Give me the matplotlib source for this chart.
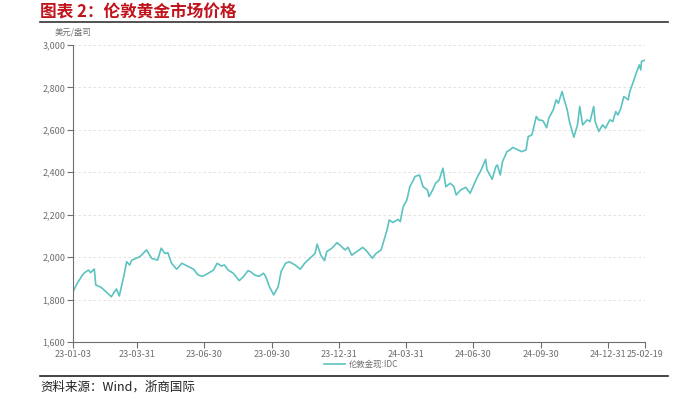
import matplotlib
matplotlib.use("Agg")
import matplotlib.pyplot as plt
import matplotlib.dates as mdates
import pandas as pd

plt.rcParams['font.family'] = ['Noto Sans CJK SC', 'DejaVu Sans']

dates = [
    "2023-01-03", "2023-01-09", "2023-01-16", "2023-01-19", "2023-01-24", "2023-01-27",
    "2023-02-01", "2023-02-03", "2023-02-10", "2023-02-17", "2023-02-24", "2023-03-03",
    "2023-03-07", "2023-03-13", "2023-03-17", "2023-03-21", "2023-03-24", "2023-04-04",
    "2023-04-13", "2023-04-20", "2023-04-28", "2023-05-03", "2023-05-08", "2023-05-12",
    "2023-05-17", "2023-05-24", "2023-05-31", "2023-06-09", "2023-06-16", "2023-06-22",
    "2023-06-28", "2023-07-06", "2023-07-13", "2023-07-18", "2023-07-24", "2023-07-28",
    "2023-08-02", "2023-08-09", "2023-08-17", "2023-08-23", "2023-08-29", "2023-09-01",
    "2023-09-07", "2023-09-13", "2023-09-19", "2023-09-22", "2023-09-27", "2023-10-03",
    "2023-10-09", "2023-10-13", "2023-10-19", "2023-10-24", "2023-11-01", "2023-11-08",
    "2023-11-14", "2023-11-21", "2023-11-28", "2023-12-01", "2023-12-06", "2023-12-11",
    "2023-12-14", "2023-12-21", "2023-12-28", "2024-01-02", "2024-01-08", "2024-01-12",
    "2024-01-17", "2024-01-24", "2024-02-01", "2024-02-07", "2024-02-14", "2024-02-19",
    "2024-02-26", "2024-03-01", "2024-03-05", "2024-03-08", "2024-03-13", "2024-03-20",
    "2024-03-23", "2024-03-27", "2024-04-01", "2024-04-05", "2024-04-10", "2024-04-12",
    "2024-04-18", "2024-04-23", "2024-04-29", "2024-05-01", "2024-05-06", "2024-05-10",
    "2024-05-15", "2024-05-20", "2024-05-24", "2024-05-30", "2024-06-04", "2024-06-07",
    "2024-06-13", "2024-06-20", "2024-06-26", "2024-07-01", "2024-07-05", "2024-07-11",
    "2024-07-17", "2024-07-19", "2024-07-26", "2024-07-31", "2024-08-02", "2024-08-06",
    "2024-08-09", "2024-08-15", "2024-08-19", "2024-08-23", "2024-08-30", "2024-09-04",
    "2024-09-10", "2024-09-13", "2024-09-18", "2024-09-24", "2024-09-27", "2024-10-03",
    "2024-10-08", "2024-10-11", "2024-10-17", "2024-10-21", "2024-10-24", "2024-10-29",
    "2024-11-01", "2024-11-05", "2024-11-08", "2024-11-14", "2024-11-19", "2024-11-22",
    "2024-11-26", "2024-12-02", "2024-12-06", "2024-12-11", "2024-12-13", "2024-12-18",
    "2024-12-23", "2024-12-27", "2025-01-02", "2025-01-06", "2025-01-10", "2025-01-13",
    "2025-01-17", "2025-01-21", "2025-01-27", "2025-01-29", "2025-02-03", "2025-02-06",
    "2025-02-11", "2025-02-13", "2025-02-14", "2025-02-19",
]
prices = [
    1837, 1878, 1916, 1927, 1939, 1927,
    1944, 1869, 1858, 1837, 1813, 1850,
    1817, 1909, 1978, 1963, 1986, 2002,
    2034, 1994, 1986, 2042, 2017, 2021,
    1971, 1943, 1971, 1955, 1943, 1916,
    1909, 1924, 1939, 1971, 1958, 1963,
    1939, 1924, 1889, 1909, 1936, 1932,
    1916, 1909, 1924, 1909, 1861, 1822,
    1861, 1932, 1971, 1978, 1963, 1943,
    1971, 1994, 2017, 2061, 2009, 1983,
    2026, 2042, 2068, 2053, 2034, 2046,
    2009, 2026, 2046, 2026, 1995, 2017,
    2034, 2081, 2128, 2175, 2163, 2178,
    2167, 2238, 2269, 2332, 2364, 2380,
    2387, 2332, 2316, 2285, 2316, 2348,
    2364, 2419, 2332, 2348, 2332, 2293,
    2316, 2329, 2301, 2340, 2372, 2411,
    2461, 2411, 2367, 2427, 2434, 2387,
    2450, 2497, 2505, 2517, 2505, 2497,
    2505, 2568, 2576, 2663, 2647, 2643,
    2610, 2655, 2694, 2741, 2725, 2780,
    2741, 2694, 2639, 2565, 2623, 2710,
    2623, 2647, 2639, 2710, 2639, 2592,
    2623, 2608, 2647, 2639, 2686, 2670,
    2702, 2757, 2741, 2780, 2827, 2859,
    2906, 2882, 2922, 2929,
]
tick_dates = ["2023-01-03", "2023-03-31", "2023-06-30", "2023-09-30", "2023-12-31",
              "2024-03-31", "2024-06-30", "2024-09-30", "2024-12-31", "2025-02-19"]
tick_labels = ["23-01-03", "23-03-31", "23-06-30", "23-09-30", "23-12-31",
               "24-03-31", "24-06-30", "24-09-30", "24-12-31", "25-02-19"]
y_ticks = [1600, 1800, 2000, 2200, 2400, 2600, 2800, 3000]
series_name = "伦敦金现:IDC"
unit = "美元/盎司"
title = "图表 2：伦敦黄金市场价格"
source = "资料来源：Wind，浙商国际"

x = pd.to_datetime(dates)
fig = plt.figure(figsize=(6.82, 3.94), dpi=100)
ax = fig.add_axes([0.107, 0.132, 0.839, 0.754])

line_color = "#5cc3c0"
ax.plot(x, prices, color=line_color, lw=1.2, label=series_name)

ax.set_xlim(pd.Timestamp(tick_dates[0]), pd.Timestamp(tick_dates[-1]))
ax.set_ylim(1600, 3000)
ax.set_yticks(y_ticks)
ax.set_yticklabels([f"{v:,}" for v in y_ticks])
ax.set_xticks(pd.to_datetime(tick_dates))
ax.set_xticklabels(tick_labels)

gray = "#6e6e6e"
for s in ["top", "right"]:
    ax.spines[s].set_visible(False)
for s in ["left", "bottom"]:
    ax.spines[s].set_color(gray)
    ax.spines[s].set_linewidth(0.8)
ax.tick_params(axis="both", colors=gray, labelsize=6.5, length=4, width=0.8, pad=1.5)
ax.tick_params(axis="x", pad=2)
ax.grid(axis="y", color="#dddddd", ls=(0, (3, 3)), lw=0.6)
ax.set_axisbelow(True)

ax.text(0.0, 1.03, unit, transform=ax.transAxes, fontsize=6, color=gray, ha="center", va="bottom")

leg = fig.legend(loc="center", bbox_to_anchor=(0.53, 0.075), frameon=False, fontsize=6,
                 handlelength=2.5, handletextpad=0.5)
for t in leg.get_texts():
    t.set_color(gray)

fig.text(0.059, 0.99, title, fontsize=12, fontweight="bold", color="#c0141c", ha="left", va="top")
fig.add_artist(plt.Line2D([0.059, 0.98], [0.945, 0.945], color="#333333", lw=1.2, transform=fig.transFigure))
fig.add_artist(plt.Line2D([0.059, 0.98], [0.045, 0.045], color="#222222", lw=1.2, transform=fig.transFigure))
fig.text(0.059, 0.017, source, fontsize=9, color="#222222", ha="left", va="center")

fig.savefig("out.png", dpi=100)
